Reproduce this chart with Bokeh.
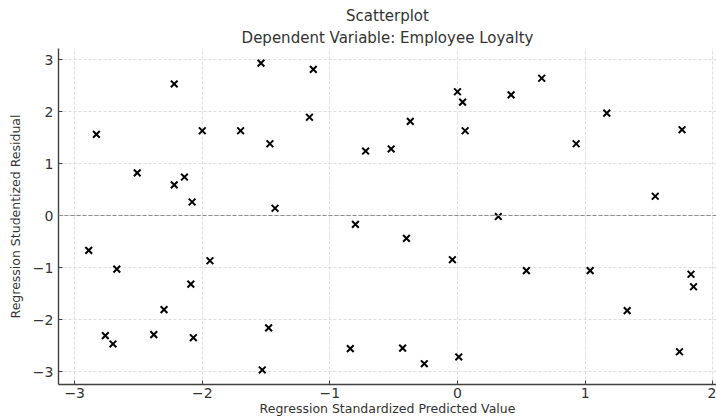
from bokeh.plotting import figure
from bokeh.models import Range1d, FixedTicker, Span, Title
from bokeh.embed import file_html
from bokeh.resources import INLINE

predicted = [-2.89, -2.83, -2.76, -2.70, -2.67, -2.51, -2.38, -2.30, -2.22, -2.22,
             -2.14, -2.09, -2.08, -2.07, -2.00, -1.94, -1.70, -1.54, -1.53, -1.48,
             -1.47, -1.43, -1.16, -1.13, -0.84, -0.80, -0.72, -0.52, -0.43, -0.40,
             -0.37, -0.26, -0.04, 0.00, 0.01, 0.04, 0.06, 0.32, 0.42, 0.54,
             0.66, 0.93, 1.04, 1.17, 1.33, 1.55, 1.74, 1.76, 1.83, 1.85]
residual = [-0.67, 1.56, -2.31, -2.47, -1.03, 0.82, -2.29, -1.81, 2.53, 0.59,
            0.74, -1.32, 0.26, -2.35, 1.63, -0.87, 1.63, 2.93, -2.97, -2.16,
            1.38, 0.14, 1.89, 2.81, -2.56, -0.17, 1.24, 1.28, -2.55, -0.44,
            1.81, -2.85, -0.85, 2.38, -2.72, 2.18, 1.63, -0.02, 2.32, -1.06,
            2.64, 1.38, -1.06, 1.97, -1.83, 0.37, -2.62, 1.65, -1.13, -1.37]

x_ticks = [-3, -2, -1, 0, 1, 2]
x_tick_labels = ["\u22123", "\u22122", "\u22121", "0", "1", "2"]
y_ticks = [-3, -2, -1, 0, 1, 2, 3]
y_tick_labels = ["\u22123", "\u22122", "\u22121", "0", "1", "2", "3"]

title_main = "Scatterplot"
title_sub = "Dependent Variable: Employee Loyalty"
x_label = "Regression Standardized Predicted Value"
y_label = "Regression Studentized Residual"

FONT = "DejaVu Sans"
TXT = "#333333"
SPINE = "#404040"

p = figure(width=716, height=419, output_backend="svg", toolbar_location=None,
           x_range=Range1d(-3.127, 2.03), y_range=Range1d(-3.25, 3.212),
           min_border_left=58, min_border_right=0, min_border_top=48,
           min_border_bottom=35, title=None)
p.outline_line_color = None
p.background_fill_color = "white"
p.border_fill_color = "white"

p.add_layout(Title(text=title_sub, text_font=FONT, text_font_size="15px",
                   text_font_style="normal", text_color=TXT, align="center",
                   standoff=4, offset=3), "above")
p.add_layout(Title(text=title_main, text_font=FONT, text_font_size="15px",
                   text_font_style="normal", text_color=TXT, align="center",
                   standoff=0, offset=3), "above")

for ax, ticks, labels in ((p.xaxis[0], x_ticks, x_tick_labels),
                          (p.yaxis[0], y_ticks, y_tick_labels)):
    ax.ticker = FixedTicker(ticks=ticks)
    ax.major_label_overrides = dict(zip(ticks, labels))
    ax.major_tick_in = 4
    ax.major_tick_out = 0
    ax.minor_tick_in = 0
    ax.minor_tick_out = 0
    ax.axis_line_color = SPINE
    ax.axis_line_width = 1.4
    ax.major_tick_line_color = SPINE
    ax.major_tick_line_width = 1
    ax.major_label_text_font = FONT
    ax.major_label_text_font_size = "14px"
    ax.major_label_text_color = TXT
    ax.axis_label_text_font = FONT
    ax.axis_label_text_font_size = "12.5px"
    ax.axis_label_text_font_style = "normal"
    ax.axis_label_text_color = TXT

p.xaxis.axis_label = x_label
p.yaxis.axis_label = y_label
p.xaxis.major_label_standoff = 3
p.xaxis.axis_label_standoff = 0
p.yaxis.major_label_standoff = 5
p.yaxis.axis_label_standoff = 7

for g in (p.xgrid[0], p.ygrid[0]):
    g.grid_line_color = "#d4d4d4"
    g.grid_line_dash = "3 2"
    g.grid_line_width = 0.8

p.add_layout(Span(location=0, dimension="width", line_color="#8c8c8c",
                  line_dash="4 2", line_width=1.1))

p.scatter(predicted, residual, marker="x", size=9.5, line_width=2,
          line_color="black")

open("out.html", "w").write(file_html(p, INLINE))
